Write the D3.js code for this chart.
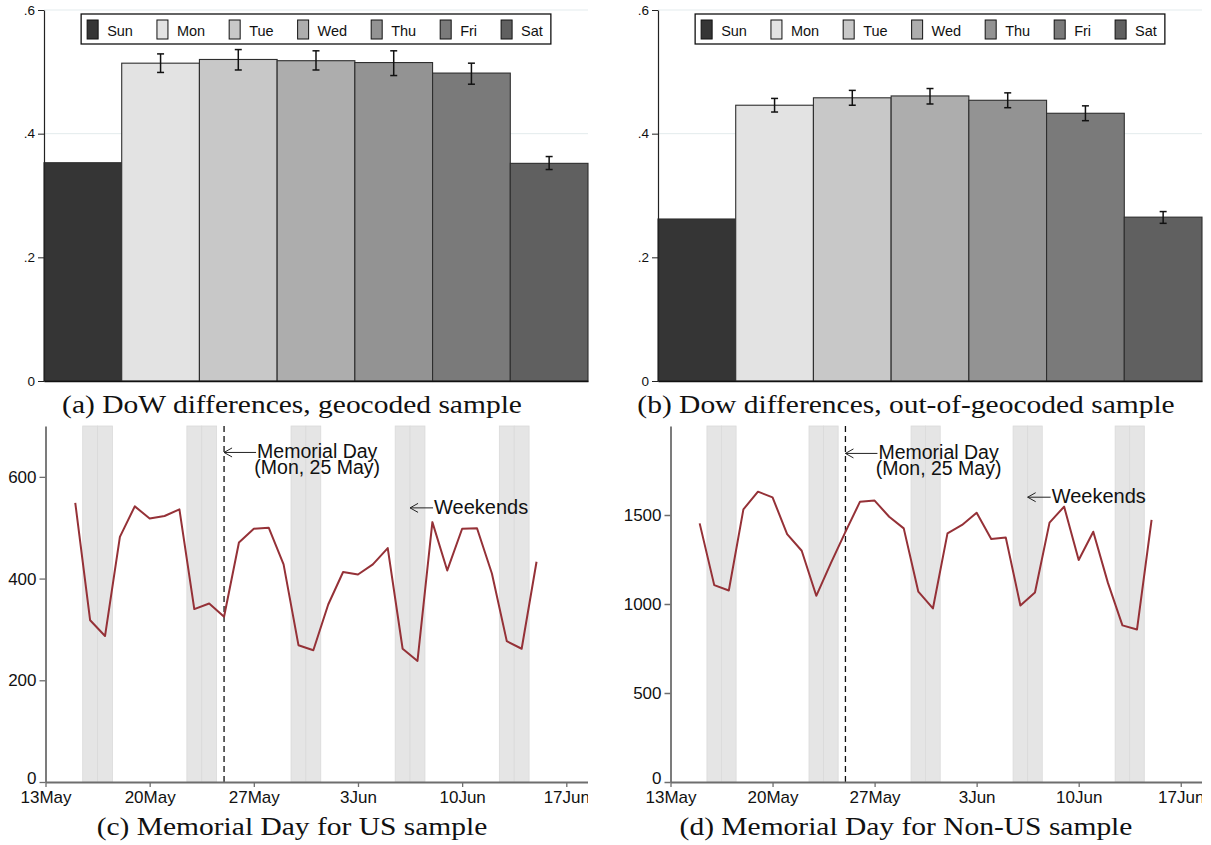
<!DOCTYPE html>
<html>
<head>
<meta charset="utf-8">
<script src="https://cdn.jsdelivr.net/npm/d3@7"></script>
<style>
body { margin: 0; background: #fff; }
svg text { font-family: "Liberation Sans", Arial, sans-serif; fill: #111; }
</style>
</head>
<body>
<svg id="fig" width="1211" height="845"></svg>
<script>
// ---- data ----
var dayNames = ['Sun', 'Mon', 'Tue', 'Wed', 'Thu', 'Fri', 'Sat'];

var geoMean = [0.353, 0.514, 0.520, 0.518, 0.515, 0.498, 0.352];
var geoLow  = [null, 0.499, 0.503, 0.503, 0.494, 0.480, 0.342];
var geoHigh = [null, 0.529, 0.536, 0.534, 0.534, 0.514, 0.363];

var outMean = [0.262, 0.446, 0.458, 0.461, 0.454, 0.433, 0.265];
var outLow  = [null, 0.435, 0.446, 0.448, 0.442, 0.421, 0.255];
var outHigh = [null, 0.457, 0.470, 0.473, 0.466, 0.445, 0.274];

var barTicks = [0, 0.2, 0.4, 0.6];
var barTickLabels = ['0', '.2', '.4', '.6'];

var firstDay = '2015-05-15';
var usCounts = [549, 318, 287, 482, 542, 518, 523, 536, 340, 351, 325, 471, 498, 500, 428, 269,
                259, 349, 413, 408, 428, 460, 262, 238, 511, 416, 498, 499, 410, 277, 262, 433];
var nonUsCounts = [1453, 1106, 1076, 1532, 1631, 1599, 1393, 1299, 1046, 1230, 1405, 1575, 1581, 1490, 1425, 1069,
                   975, 1397, 1444, 1513, 1365, 1373, 992, 1065, 1457, 1547, 1247, 1406, 1120, 880, 857, 1472];

var weekendDays = ['2015-05-16', '2015-05-17', '2015-05-23', '2015-05-24', '2015-05-30',
                   '2015-05-31', '2015-06-06', '2015-06-07', '2015-06-13', '2015-06-14'];
var memorialDay = '2015-05-25';
var dateTicks = ['2015-05-13', '2015-05-20', '2015-05-27', '2015-06-03', '2015-06-10', '2015-06-17'];
var dateTickLabels = ['13May', '20May', '27May', '3Jun', '10Jun', '17Jun'];
var usTicks = [0, 200, 400, 600];
var nonUsTicks = [0, 500, 1000, 1500];

var captions = [
    '(a) DoW differences, geocoded sample',
    '(b) Dow differences, out-of-geocoded sample',
    '(c) Memorial Day for US sample',
    '(d) Memorial Day for Non-US sample'
];

var barColors = ['#353535', '#e3e3e3', '#c8c8c8', '#adadad', '#939393', '#7a7a7a', '#606060'];

var parseDay = d3.timeParse('%Y-%m-%d');
var svg = d3.select('#fig');
svg.append('rect').attr('width', 1211).attr('height', 845).attr('fill', '#fff');


var drawBars = function(opts){
    var g = svg.append('g');

    var x = d3.scaleBand().domain(dayNames).range([opts.left, opts.right]);
    var y = d3.scaleLinear().domain([0, 0.6]).range([opts.bottom, opts.top]);

    // grid lines
    g.selectAll('.grid')
        .data(barTicks.slice(1))
        .enter()
        .append('line')
        .attr('x1', opts.left)
        .attr('x2', opts.right)
        .attr('y1', function(d){ return y(d); })
        .attr('y2', function(d){ return y(d); })
        .attr('stroke', '#e3ebed')
        .attr('stroke-width', 1);

    g.selectAll('.bar')
        .data(opts.mean)
        .enter()
        .append('rect')
        .attr('x', function(d, i){ return x(dayNames[i]); })
        .attr('width', x.bandwidth())
        .attr('y', function(d){ return y(d); })
        .attr('height', function(d){ return y(0) - y(d); })
        .attr('fill', function(d, i){ return barColors[i]; })
        .attr('stroke', '#2e2e2e')
        .attr('stroke-width', 1.1);

    // error bars (Sunday is the reference day, no interval)
    var err = opts.low.map(function(lo, i){
        return {day: dayNames[i], lo: lo, hi: opts.high[i]};
    }).filter(function(d){ return d.lo !== null; });

    var eb = g.selectAll('.err').data(err).enter().append('g');
    eb.append('line')
        .attr('x1', function(d){ return x(d.day) + x.bandwidth() / 2; })
        .attr('x2', function(d){ return x(d.day) + x.bandwidth() / 2; })
        .attr('y1', function(d){ return y(d.lo); })
        .attr('y2', function(d){ return y(d.hi); });
    ['lo', 'hi'].forEach(function(k){
        eb.append('line')
            .attr('x1', function(d){ return x(d.day) + x.bandwidth() / 2 - 3.5; })
            .attr('x2', function(d){ return x(d.day) + x.bandwidth() / 2 + 3.5; })
            .attr('y1', function(d){ return y(d[k]); })
            .attr('y2', function(d){ return y(d[k]); });
    });
    eb.selectAll('line').attr('stroke', '#111').attr('stroke-width', 1.5);

    // axes
    var yAxis = d3.axisLeft(y)
        .tickValues(barTicks)
        .tickFormat(function(d, i){ return barTickLabels[i]; })
        .tickSize(6)
        .tickSizeOuter(0)
        .tickPadding(3);
    var ya = g.append('g').attr('transform', 'translate(' + opts.left + ',0)').call(yAxis);
    ya.select('.domain').attr('stroke', '#222').attr('stroke-width', 1.2);
    ya.selectAll('.tick line').attr('stroke', '#222');
    ya.selectAll('.tick text').style('font-size', '13.5px');

    var xa = g.append('g').attr('transform', 'translate(0,' + opts.bottom + ')')
        .call(d3.axisBottom(x).tickValues([]).tickSizeOuter(0));
    xa.select('.domain').attr('stroke', '#111').attr('stroke-width', 1.5);

    // legend
    var lg = g.append('g');
    var box = lg.append('rect')
        .attr('y', opts.top + 4)
        .attr('height', 30)
        .attr('fill', '#fff')
        .attr('stroke', '#111')
        .attr('stroke-width', 1.3);
    var cx = 6;
    dayNames.forEach(function(name, i){
        var it = lg.append('g');
        it.append('rect')
            .attr('x', cx)
            .attr('y', opts.top + 10)
            .attr('width', 11)
            .attr('height', 19)
            .attr('fill', barColors[i])
            .attr('stroke', '#111')
            .attr('stroke-width', 1);
        var t = it.append('text')
            .attr('x', cx + 20)
            .attr('y', opts.top + 25.5)
            .style('font-size', '14.5px')
            .text(name);
        cx += 20 + t.node().getComputedTextLength() + 24;
    });
    var boxW = cx - 24 + 8;
    var boxX = (opts.left + opts.right) / 2 - boxW / 2;
    box.attr('x', 0).attr('width', boxW);
    lg.attr('transform', 'translate(' + boxX + ',0)');
};


var drawSeries = function(opts){
    var clipId = 'clip' + opts.id;
    svg.append('clipPath').attr('id', clipId)
        .append('rect')
        .attr('x', opts.left - 80)
        .attr('y', 0)
        .attr('width', opts.right - opts.left + 80)
        .attr('height', 845);

    var g = svg.append('g').attr('clip-path', 'url(#' + clipId + ')');

    var x = d3.scaleTime()
        .domain([parseDay('2015-05-13'), d3.timeHour.offset(parseDay('2015-06-18'), 11)])
        .range([opts.left, opts.right]);
    var y = d3.scaleLinear().domain([0, opts.yMax]).range([opts.bottom, opts.top]);

    // weekend shading, one band per day
    g.selectAll('.wk')
        .data(weekendDays.map(parseDay))
        .enter()
        .append('rect')
        .attr('x', function(d){ return x(d3.timeHour.offset(d, -12)); })
        .attr('width', function(d){ return x(d3.timeHour.offset(d, 12)) - x(d3.timeHour.offset(d, -12)); })
        .attr('y', opts.top)
        .attr('height', opts.bottom - opts.top)
        .attr('fill', '#e5e5e5')
        .attr('stroke', '#dadada')
        .attr('stroke-width', 0.8);

    // memorial day marker
    var md = parseDay(memorialDay);
    g.append('line')
        .attr('x1', x(md))
        .attr('x2', x(md))
        .attr('y1', opts.top)
        .attr('y2', opts.bottom)
        .attr('stroke', '#111')
        .attr('stroke-width', 1.3)
        .attr('stroke-dasharray', '6,4');

    var start = parseDay(firstDay);
    var pts = opts.values.map(function(v, i){
        return {date: d3.timeDay.offset(start, i), value: v};
    });
    var line = d3.line()
        .x(function(d){ return x(d.date); })
        .y(function(d){ return y(d.value); });
    g.append('path')
        .datum(pts)
        .attr('d', line)
        .attr('fill', 'none')
        .attr('stroke', '#953137')
        .attr('stroke-width', 2)
        .attr('stroke-linejoin', 'round');

    // axes
    var yAxis = d3.axisLeft(y)
        .tickValues(opts.ticks)
        .tickFormat(d3.format('d'))
        .tickSize(6)
        .tickSizeOuter(0)
        .tickPadding(3);
    var ya = g.append('g').attr('transform', 'translate(' + opts.left + ',0)').call(yAxis);

    var xAxis = d3.axisBottom(x)
        .tickValues(dateTicks.map(parseDay))
        .tickFormat(function(d, i){ return dateTickLabels[i]; })
        .tickSize(5)
        .tickSizeOuter(0)
        .tickPadding(4);
    var xa = g.append('g').attr('transform', 'translate(0,' + opts.bottom + ')').call(xAxis);

    [ya, xa].forEach(function(a){
        a.select('.domain').attr('stroke', '#6e6e6e').attr('stroke-width', 1.8);
        a.selectAll('.tick line').attr('stroke', '#6e6e6e').attr('stroke-width', 1.3);
        a.selectAll('.tick text').style('font-size', '17px').style('fill', '#111');
    });
    // the zero label sits a little higher so it clears the first date label
    ya.selectAll('.tick text').filter(function(d){ return d === 0; }).attr('dy', '0.1em');

    // annotations
    var arrow = function(tipX, tipY, len){
        g.append('path')
            .attr('d', 'M' + (tipX + len) + ',' + tipY + 'H' + tipX +
                       'M' + (tipX + 8) + ',' + (tipY - 4.5) + 'L' + tipX + ',' + tipY +
                       'L' + (tipX + 8) + ',' + (tipY + 4.5))
            .attr('fill', 'none')
            .attr('stroke', '#222')
            .attr('stroke-width', 1);
    };

    var my = y(opts.memorialY);
    arrow(x(md), my, 32);
    var t1 = g.append('text')
        .attr('x', x(md) + 33)
        .attr('y', my + 6)
        .style('font-size', '19.5px')
        .text('Memorial Day');
    var w1 = t1.node().getComputedTextLength();
    g.append('text')
        .attr('x', x(md) + 33 + w1 / 2)
        .attr('y', my + 22)
        .attr('text-anchor', 'middle')
        .style('font-size', '19.5px')
        .text('(Mon, 25 May)');

    var wx = x(d3.timeHour.offset(parseDay(weekendDays[6]), 12));
    var wy = y(opts.weekendY);
    arrow(wx, wy, 23);
    g.append('text')
        .attr('x', wx + 24)
        .attr('y', wy + 6)
        .style('font-size', '20px')
        .text('Weekends');
};


var caption = function(text, cx, y){
    svg.append('text')
        .attr('transform', 'translate(' + cx + ',' + y + ') scale(1.18,1)')
        .attr('text-anchor', 'middle')
        .style('font-family', '"Liberation Serif", "Times New Roman", serif')
        .style('font-size', '25px')
        .text(text);
};


drawBars({left: 44, right: 588, top: 10, bottom: 381, mean: geoMean, low: geoLow, high: geoHigh});
drawBars({left: 658, right: 1202, top: 10, bottom: 381, mean: outMean, low: outLow, high: outHigh});

drawSeries({id: 'c', left: 45.5, right: 588, top: 426, bottom: 782, yMax: 700,
            values: usCounts, ticks: usTicks, memorialY: 648, weekendY: 539});
drawSeries({id: 'd', left: 670.5, right: 1202, top: 426, bottom: 782, yMax: 2000,
            values: nonUsCounts, ticks: nonUsTicks, memorialY: 1846, weekendY: 1600});

caption(captions[0], 292, 413);
caption(captions[1], 906, 413);
caption(captions[2], 292, 835);
caption(captions[3], 906, 835);
</script>
</body>
</html>
